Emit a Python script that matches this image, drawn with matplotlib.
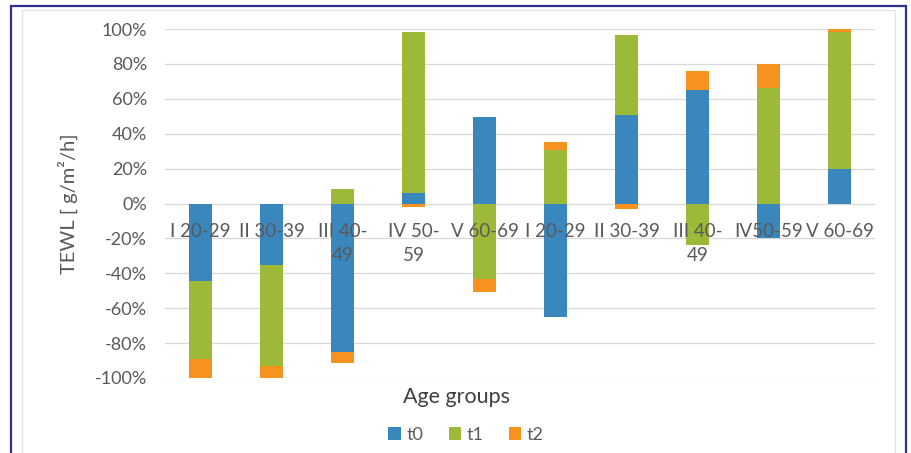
import numpy as np
import matplotlib
matplotlib.use('Agg')
import matplotlib.pyplot as plt
from matplotlib.patches import Rectangle

plt.rcParams['font.family'] = ['Lato', 'DejaVu Sans']

groups = ['I 20-29', 'II 30-39', 'III 40-\n49', 'IV 50-\n59', 'V 60-69',
          'I 20-29', 'II 30-39', 'III 40-\n49', 'IV50-59', 'V 60-69']
t0 = [-44.5, -35, -85, 6, 49.5, -65, 50.5, 65, -19.5, 20]
t1 = [-44.5, -58, 8.5, 92, -43.5, 30.5, 46, -24, 66, 78]
t2 = [-11, -7, -6.5, -2, -7, 4.5, -3, 11, 14, 2]
series_names = ['t0', 't1', 't2']
series_colors = ['#3a87bd', '#9cba38', '#f7921e']

W, H = 912, 453
fig = plt.figure(figsize=(W / 100, H / 100), dpi=100)
ax = fig.add_axes([165 / W, 1 - 378 / H, 710 / W, 349 / H])

x = np.arange(len(groups))
pos_base = np.zeros(len(groups))
neg_base = np.zeros(len(groups))
for vals, name, col in zip([t0, t1, t2], series_names, series_colors):
    v = np.array(vals, dtype=float)
    bottom = np.where(v >= 0, pos_base, neg_base)
    ax.bar(x, v, bottom=bottom, width=0.31, color=col, label=name, zorder=2)
    pos_base += np.where(v >= 0, v, 0)
    neg_base += np.where(v < 0, v, 0)

ax.set_ylim(-100, 100)
ax.set_xlim(-0.5, len(groups) - 0.5)
ax.set_yticks(np.arange(-100, 101, 20))
ax.set_yticklabels([f'{v}%' for v in range(-100, 101, 20)], fontsize=13, color='#595959')
ax.set_xticks([])
ax.tick_params(axis='y', length=0, pad=13)
ax.grid(axis='y', color='#d9d9d9', lw=0.9, zorder=0)
for s in ax.spines.values():
    s.set_visible(False)

# category labels sit just below the zero line, over the bars
for i, g in enumerate(groups):
    ax.text(i, -11, g, ha='center', va='top', fontsize=13.5, color='#595959',
            linespacing=1.55, zorder=5)

ax.set_ylabel('TEWL [ g/m²/h]', fontsize=14.5, color='#595959', labelpad=12)
fig.text(457 / W, 1 - 397 / H, 'Age groups', ha='center', va='center',
         fontsize=15.5, color='#404040')

ax.legend(loc='center', bbox_to_anchor=(466 / W, 1 - 435 / H),
          bbox_transform=fig.transFigure, ncol=3, frameon=False,
          fontsize=13, handlelength=0.7, handleheight=0.7, handletextpad=0.3,
          columnspacing=1.4, labelcolor='#595959')

# outer and inner frames
fig.patches.append(Rectangle((22 / W, -0.1), 873 / W, 1.1 - 10 / H,
                             transform=fig.transFigure, fill=False,
                             ec='#e3e3e3', lw=1.0))
fig.patches.append(Rectangle((11 / W, -0.1), 895 / W, 1.1 - 6 / H,
                             transform=fig.transFigure, fill=False,
                             ec='#2e3192', lw=1.6))

fig.savefig('out.png', dpi=100)
